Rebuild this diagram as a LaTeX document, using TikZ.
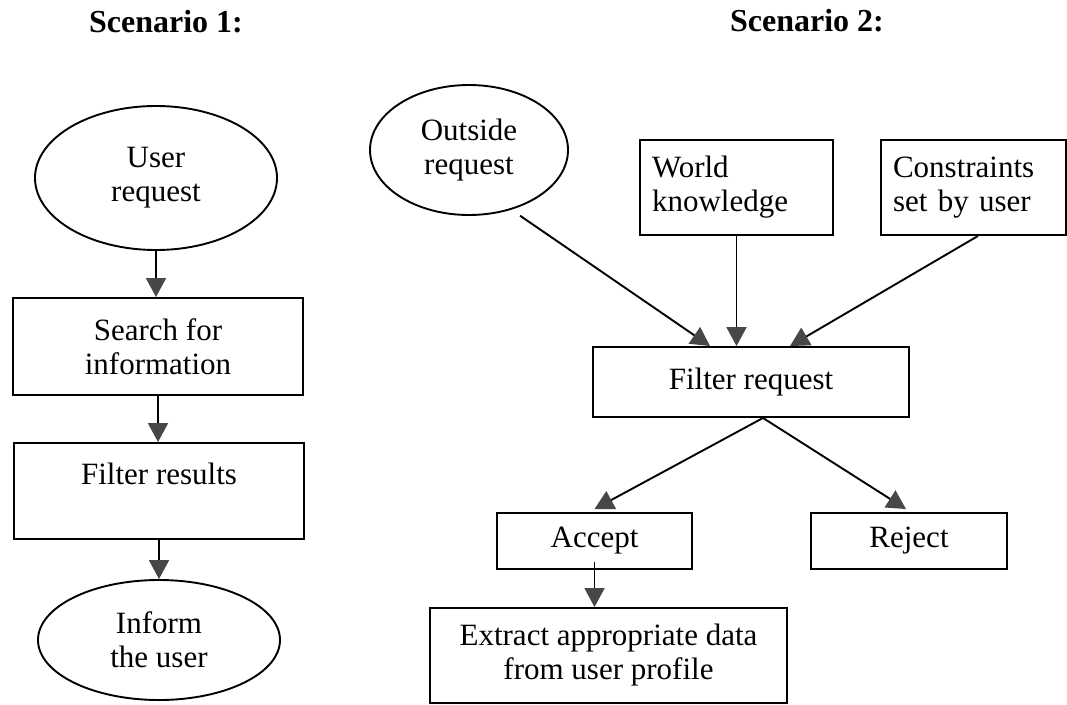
\documentclass[tikz,border=0pt]{standalone}
\usepackage{fontspec}
\setmainfont{Liberation Serif}
\usetikzlibrary{shapes.geometric,arrows.meta}
\begin{document}
\begin{tikzpicture}[x=1pt,y=-1pt,
  body/.style={draw=black, line width=1.9pt, inner sep=0pt,
    font=\fontsize{31}{34}\selectfont, align=center},
  oval/.style={body, ellipse},
  plainbox/.style={body, rectangle},
  leftbox/.style={body, rectangle, align=left, inner xsep=12pt, text width=#1},
  title/.style={font=\fontsize{32}{36}\selectfont\bfseries, anchor=base, inner sep=0pt},
  flow/.style={line width=1.9pt,
    -{Triangle[length=19pt,width=20pt,fill=black!72,color=black!72]}}
]
\useasboundingbox (0,0) rectangle (1067,704);

% titles
\node[title] (t1) at (166,32) {Scenario 1:};
\node[title] (t2) at (807,31) {Scenario 2:};

% scenario 1
\node[oval, minimum width=242pt, minimum height=144pt] (ureq) at (156,178) {User\\request};
\node[plainbox, minimum width=290pt, minimum height=97pt] (search) at (158,346.5) {Search for\\information};
\node[plainbox, minimum width=290pt, minimum height=96pt] (filt) at (159,491) {Filter results\\\mbox{}};
\node[oval, minimum width=242pt, minimum height=120pt] (inform) at (159,640) {Inform\\the user};

\draw[flow] (ureq.south) -- (ureq.south |- search.north);
\draw[flow] (search.south) -- (search.south |- filt.north);
\draw[flow] (filt.south) -- (filt.south |- inform.north);

% scenario 2
\node[oval, minimum width=198pt, minimum height=130pt] (outreq) at (469,150) {Outside\\request};
\node[leftbox=169pt, minimum height=95pt] (world) at (736.5,187.5) {World\\knowledge};
\node[leftbox=161pt, minimum height=95pt] (cons) at (973.5,187.5) {Constraints\\set by user};
\node[plainbox, minimum width=316pt, minimum height=70pt] (freq) at (751,382) {Filter request};
\node[plainbox, minimum width=195pt, minimum height=56pt] (accept) at (594.5,541) {Accept};
\node[plainbox, minimum width=196pt, minimum height=56pt] (reject) at (909,541) {Reject};
\node[plainbox, minimum width=357pt, minimum height=95pt] (extract) at (608.5,655.5) {Extract appropriate data\\from user profile};

\draw[flow] ([yshift=-9pt]outreq.-48) -- ([xshift=-41pt]freq.north);
\draw[flow] (world.south) -- (world.south |- freq.north);
\draw[flow] ([xshift=4.5pt]cons.south) -- ([xshift=39pt]freq.north);
\draw[flow] ([xshift=12pt]freq.south) -- ([yshift=3pt]accept.north);
\draw[flow] ([xshift=12pt]freq.south) -- ([xshift=-3pt,yshift=3pt]reject.north);
\draw[flow] ([yshift=8pt]accept.south) -- (accept.south |- extract.north);
\end{tikzpicture}
\end{document}
